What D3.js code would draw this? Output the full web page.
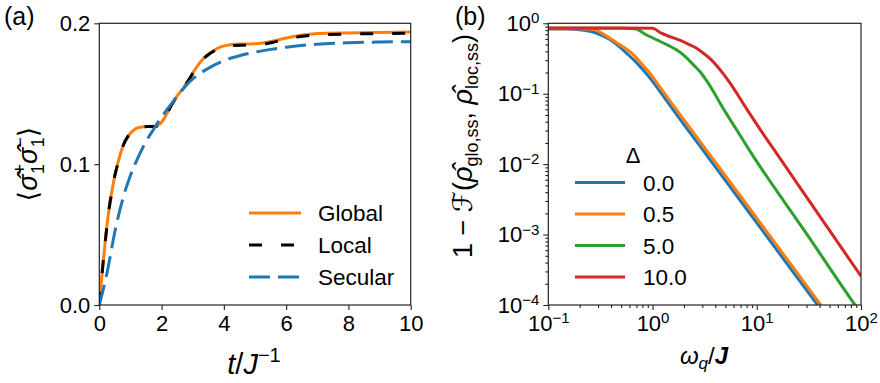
<!DOCTYPE html>
<html>
<head>
<meta charset="utf-8">
<script src="https://cdn.jsdelivr.net/npm/d3@7"></script>
<style>
  body { margin: 0; background: #fff; }
  svg { display: block; font-family: "Liberation Sans", Arial, "DejaVu Sans", sans-serif; }
  .tick text { font-size: 22px; fill: #000; }
  .tick line { stroke: #222; stroke-width: 1.1; }
</style>
</head>
<body>
<svg id="fig" width="880" height="383"></svg>
<script>
// ---------- panel (a): site-1 excitation vs time ----------
const tGlobal   = [0, 0.05, 0.1, 0.2, 0.3, 0.4, 0.5, 0.6, 0.7, 0.8, 0.9, 1.0, 1.1, 1.2, 1.4, 1.6, 1.8, 1.95, 2.1, 2.3, 2.5, 2.7, 2.9, 3.1, 3.3, 3.5, 3.7, 3.9, 4.2, 4.6, 5.0, 5.4, 5.8, 6.2, 6.6, 7.0, 8.0, 9.0, 10.0];
const popGlobal = [0, 0.013, 0.025, 0.047, 0.066, 0.080, 0.092, 0.101, 0.109, 0.115, 0.119, 0.122, 0.124, 0.1255, 0.1265, 0.1268, 0.127, 0.1285, 0.133, 0.1415, 0.1485, 0.154, 0.161, 0.168, 0.174, 0.178, 0.181, 0.1832, 0.1848, 0.1853, 0.1855, 0.1865, 0.1885, 0.1905, 0.1918, 0.1927, 0.1932, 0.1935, 0.1938];
const tLocal    = tGlobal;
const popLocal  = [0, 0.013, 0.025, 0.047, 0.066, 0.080, 0.092, 0.101, 0.109, 0.115, 0.119, 0.122, 0.124, 0.1255, 0.1265, 0.1267, 0.1268, 0.1282, 0.1327, 0.1412, 0.1482, 0.1538, 0.1608, 0.1678, 0.1738, 0.1777, 0.1805, 0.1825, 0.1840, 0.1845, 0.1847, 0.1857, 0.1877, 0.1897, 0.1910, 0.1918, 0.1924, 0.1927, 0.1930];
const tSecular   = [0, 0.25, 0.5, 0.75, 1.0, 1.25, 1.5, 1.75, 2.0, 2.25, 2.5, 2.75, 3.0, 3.5, 4.0, 4.5, 5.0, 5.5, 6.0, 7.0, 8.0, 9.0, 10.0];
const popSecular = [0, 0.023, 0.052, 0.075, 0.092, 0.105, 0.116, 0.125, 0.1335, 0.141, 0.148, 0.155, 0.1605, 0.168, 0.1735, 0.177, 0.1795, 0.1815, 0.183, 0.1852, 0.1862, 0.1867, 0.187];
const seriesNamesA = ["Global", "Local", "Secular"];
const tTicks   = [0, 2, 4, 6, 8, 10];
const popTicks = [0.0, 0.1, 0.2];

// ---------- panel (b): steady-state infidelity vs qubit frequency ----------
const deltaLabels = ["0.0", "0.5", "5.0", "10.0"];
const omegaD0  = [0.1, 0.15, 0.2, 0.25, 0.3, 0.39, 0.47, 0.565, 0.68, 0.817, 1.0, 1.18, 1.71, 2.47, 3.44, 10, 38.5, 100];
const infidD0  = [0.83, 0.83, 0.81, 0.77, 0.71, 0.59, 0.48, 0.375, 0.29, 0.215, 0.150, 0.107, 0.050, 0.0240, 0.0124, 0.00147, 9.9e-5, 1.47e-5];
const omegaD05 = [0.1, 0.2, 0.27, 0.35, 0.453, 0.55, 0.655, 0.78, 0.946, 1.15, 1.37, 1.98, 2.85, 3.89, 10, 40.4, 100];
const infidD05 = [0.84, 0.84, 0.82, 0.68, 0.53, 0.44, 0.36, 0.27, 0.195, 0.130, 0.0912, 0.0435, 0.0210, 0.0113, 0.00171, 1.04e-4, 1.7e-5];
const omegaD5  = [0.1, 0.5, 0.68, 0.85, 1.1, 1.4, 1.71, 2.05, 2.47, 2.9, 3.31, 3.85, 4.45, 6.43, 8.95, 30, 87.7, 100];
const infidD5  = [0.85, 0.85, 0.84, 0.70, 0.58, 0.49, 0.417, 0.34, 0.257, 0.200, 0.152, 0.107, 0.0731, 0.0305, 0.0140, 0.00103, 1.0e-4, 7.6e-5];
const omegaD10 = [0.1, 0.5, 1.0, 1.2, 1.47, 1.8, 2.13, 2.6, 3.08, 3.6, 4.13, 4.8, 5.55, 8.02, 11.6, 16.1, 40, 100];
const infidD10 = [0.86, 0.86, 0.85, 0.73, 0.646, 0.58, 0.52, 0.45, 0.375, 0.31, 0.250, 0.19, 0.141, 0.0605, 0.0265, 0.0131, 0.00184, 0.000257];
const omegaMajor = [0.1, 1, 10, 100];
const infidMajor = [1e-4, 1e-3, 1e-2, 1e-1, 1];

const tab = { blue: "#1f77b4", orange: "#ff7f0e", green: "#2ca02c", red: "#d62728" };

const svg = d3.select("#fig");
const A = { l: 99.3, r: 410.7, t: 23.3, b: 305 };
const B = { l: 548.3, r: 861, t: 23.3, b: 305 };

const xA = d3.scaleLinear().domain([0, 10]).range([A.l, A.r]);
const yA = d3.scaleLinear().domain([0, 0.2]).range([A.b, A.t]);
const xB = d3.scaleLog().domain([0.1, 100]).range([B.l, B.r]);
const yB = d3.scaleLog().domain([1e-4, 1]).range([B.b, B.t]);

const defs = svg.append("defs");
defs.append("clipPath").attr("id", "clipA").append("rect")
  .attr("x", A.l).attr("y", A.t - 3).attr("width", A.r - A.l).attr("height", A.b - A.t + 3);
defs.append("clipPath").attr("id", "clipB").append("rect")
  .attr("x", B.l).attr("y", B.t - 3).attr("width", B.r - B.l).attr("height", B.b - B.t + 3);

function styleAxis(g) {
  g.select(".domain").remove();
}

// ----- panel (a) axes -----
svg.append("g").attr("transform", `translate(0,${A.b})`)
  .call(d3.axisBottom(xA).tickValues(tTicks).tickFormat(d3.format("d")).tickSize(5).tickPadding(5).tickSizeOuter(0))
  .call(styleAxis);
svg.append("g").attr("transform", `translate(${A.l},0)`)
  .call(d3.axisLeft(yA).tickValues(popTicks).tickFormat(d3.format(".1f")).tickSize(5).tickPadding(4).tickSizeOuter(0))
  .call(styleAxis);

// ----- panel (a) curves -----
const lineA = d3.line().curve(d3.curveMonotoneX).x(d => xA(d[0])).y(d => yA(d[1]));
const gA = svg.append("g").attr("clip-path", "url(#clipA)");
gA.append("path").datum(d3.zip(tGlobal, popGlobal)).attr("d", lineA)
  .attr("fill", "none").attr("stroke", tab.orange).attr("stroke-width", 3);
gA.append("path").datum(d3.zip(tLocal, popLocal)).attr("d", lineA)
  .attr("fill", "none").attr("stroke", "#000").attr("stroke-width", 3).attr("stroke-dasharray", "13,19");
gA.append("path").datum(d3.zip(tSecular, popSecular)).attr("d", lineA)
  .attr("fill", "none").attr("stroke", tab.blue).attr("stroke-width", 3).attr("stroke-dasharray", "21,8");

svg.append("rect").attr("x", A.l).attr("y", A.t).attr("width", A.r - A.l).attr("height", A.b - A.t)
  .attr("fill", "none").attr("stroke", "#222").attr("stroke-width", 1.2);

// legend (a)
const legA = [
  { name: seriesNamesA[0], color: tab.orange, dash: null },
  { name: seriesNamesA[1], color: "#000", dash: "13,19" },
  { name: seriesNamesA[2], color: tab.blue, dash: "21,8" }
];
legA.forEach((d, i) => {
  const y = 213 + i * 32;
  svg.append("line").attr("x1", 249).attr("x2", 301).attr("y1", y).attr("y2", y)
    .attr("stroke", d.color).attr("stroke-width", 3).attr("stroke-dasharray", d.dash);
  svg.append("text").attr("x", 318).attr("y", y + 8).attr("font-size", 22.5).text(d.name);
});

// axis labels (a)
const xlabA = svg.append("text").attr("x", 254).attr("y", 374).attr("text-anchor", "middle").attr("font-size", 29);
xlabA.append("tspan").attr("font-style", "italic").text("t");
xlabA.append("tspan").text("/");
xlabA.append("tspan").attr("font-style", "italic").text("J");
xlabA.append("tspan").attr("font-size", 20).attr("dy", -12).text("\u22121");

const ylabA = svg.append("text").attr("transform", "translate(37,164) rotate(-90)")
  .attr("text-anchor", "middle").attr("font-size", 27);
ylabA.append("tspan").attr("font-family", "DejaVu Sans").text("\u27E8");
ylabA.append("tspan").attr("font-style", "italic").text("\u03C3\u0302");
ylabA.append("tspan").attr("font-size", 18).attr("dy", -11).text("+");
ylabA.append("tspan").attr("font-size", 18).attr("dx", -10).attr("dy", 18).text("1");
ylabA.append("tspan").attr("font-style", "italic").attr("dy", -7).text("\u03C3\u0302");
ylabA.append("tspan").attr("font-size", 18).attr("dy", -11).text("\u2212");
ylabA.append("tspan").attr("font-size", 18).attr("dx", -10).attr("dy", 18).text("1");
ylabA.append("tspan").attr("font-family", "DejaVu Sans").attr("dy", -7).text("\u27E9");

svg.append("text").attr("x", 4).attr("y", 25).attr("font-size", 25).text("(a)");

// ----- panel (b) axes -----
function minors(lo, hi) {
  const out = [];
  for (let e = lo; e < hi; e++) for (let k = 2; k <= 9; k++) out.push(k * Math.pow(10, e));
  return out;
}
function sciLabel(textSel) {
  textSel.each(function (d) {
    const e = Math.round(Math.log10(d));
    const t = d3.select(this).text(null);
    t.append("tspan").text("10");
    t.append("tspan").attr("font-size", 15).attr("dy", "-0.5em").text(e < 0 ? "\u2212" + (-e) : String(e));
  });
}
svg.append("g").attr("transform", `translate(0,${B.b})`)
  .call(d3.axisBottom(xB).tickValues(minors(-1, 2)).tickFormat("").tickSize(3).tickSizeOuter(0))
  .call(styleAxis);
svg.append("g").attr("transform", `translate(0,${B.b})`)
  .call(d3.axisBottom(xB).tickValues(omegaMajor).tickSize(5).tickPadding(5).tickSizeOuter(0))
  .call(styleAxis)
  .call(g => g.selectAll(".tick text").call(sciLabel));
svg.append("g").attr("transform", `translate(${B.l},0)`)
  .call(d3.axisLeft(yB).tickValues(minors(-4, 0)).tickFormat("").tickSize(3).tickSizeOuter(0))
  .call(styleAxis);
svg.append("g").attr("transform", `translate(${B.l},0)`)
  .call(d3.axisLeft(yB).tickValues(infidMajor).tickSize(5).tickPadding(4).tickSizeOuter(0))
  .call(styleAxis)
  .call(g => g.selectAll(".tick text").call(sciLabel));

// ----- panel (b) curves -----
const seriesB = [
  { label: deltaLabels[0], color: tab.blue,   x: omegaD0,  y: infidD0 },
  { label: deltaLabels[1], color: tab.orange, x: omegaD05, y: infidD05 },
  { label: deltaLabels[2], color: tab.green,  x: omegaD5,  y: infidD5 },
  { label: deltaLabels[3], color: tab.red,    x: omegaD10, y: infidD10 }
];
const lineB = d3.line().curve(d3.curveMonotoneX).x(d => xB(d[0])).y(d => yB(d[1]));
const gB = svg.append("g").attr("clip-path", "url(#clipB)");
seriesB.forEach(s => {
  gB.append("path").datum(d3.zip(s.x, s.y)).attr("d", lineB)
    .attr("fill", "none").attr("stroke", s.color).attr("stroke-width", 3)
    .attr("stroke-linejoin", "round");
});

svg.append("rect").attr("x", B.l).attr("y", B.t).attr("width", B.r - B.l).attr("height", B.b - B.t)
  .attr("fill", "none").attr("stroke", "#222").attr("stroke-width", 1.2);

// legend (b)
svg.append("text").attr("x", 633).attr("y", 163).attr("text-anchor", "middle").attr("font-size", 22).text("\u0394");
seriesB.forEach((s, i) => {
  const y = 182.5 + i * 31.5;
  svg.append("line").attr("x1", 575).attr("x2", 625).attr("y1", y).attr("y2", y)
    .attr("stroke", s.color).attr("stroke-width", 3);
  svg.append("text").attr("x", 643).attr("y", y + 8).attr("font-size", 22.5).text(s.label);
});

// axis labels (b)
const xlabB = svg.append("text").attr("x", 704).attr("y", 364).attr("text-anchor", "middle").attr("font-size", 24);
xlabB.append("tspan").attr("font-style", "italic").text("\u03C9");
xlabB.append("tspan").attr("font-style", "italic").attr("font-size", 17).attr("dy", 5).text("q");
xlabB.append("tspan").attr("dy", -5).text("/");
xlabB.append("tspan").attr("font-style", "italic").attr("font-weight", "bold").text("J");

const ylabB = svg.append("text").attr("transform", "translate(472,146) rotate(-90)")
  .attr("text-anchor", "middle").attr("font-size", 27);
ylabB.append("tspan").text("1 \u2212 ");
ylabB.append("tspan").attr("font-family", "DejaVu Sans").attr("font-style", "italic").text("\u2131");
ylabB.append("tspan").text("(");
ylabB.append("tspan").attr("font-style", "italic").text("\u03C1\u0302");
ylabB.append("tspan").attr("font-size", 18).attr("dy", 6).text("glo,ss");
ylabB.append("tspan").attr("dy", -6).text(", ");
ylabB.append("tspan").attr("font-style", "italic").text("\u03C1\u0302");
ylabB.append("tspan").attr("font-size", 18).attr("dy", 6).text("loc,ss");
ylabB.append("tspan").attr("dy", -6).text(")");

svg.append("text").attr("x", 455).attr("y", 25).attr("font-size", 25).text("(b)");
</script>
</body>
</html>
